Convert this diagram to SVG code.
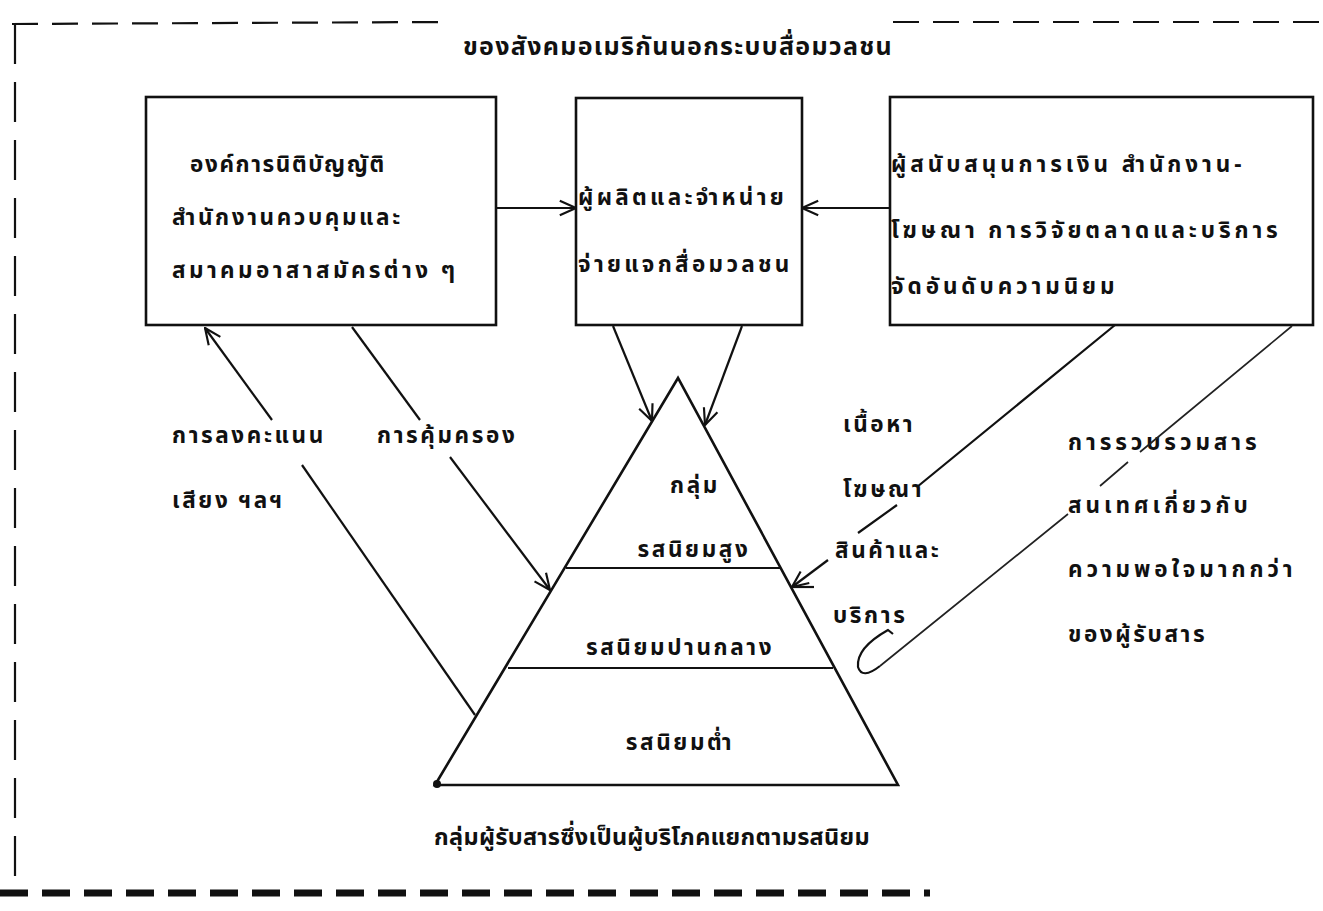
<svg xmlns="http://www.w3.org/2000/svg" width="1323" height="911" viewBox="0 0 1323 911">
<defs>
<marker id="ah" viewBox="0 0 20 20" refX="19" refY="10" markerWidth="18" markerHeight="18" markerUnits="userSpaceOnUse" orient="auto">
<path d="M1,2 L19,10 L1,18" fill="none" stroke="#111" stroke-width="2.4"/>
</marker>
<style>
.t{font-family:"Noto Sans Thai","Noto Sans","DejaVu Sans",sans-serif;font-size:22.5px;font-weight:bold;fill:#111;letter-spacing:2.6px}
.w{letter-spacing:3.9px}
.h{font-family:"Noto Sans Thai","Noto Sans","DejaVu Sans",sans-serif;font-size:25px;font-weight:bold;fill:#111;letter-spacing:1.3px}
.c{font-size:23.5px;letter-spacing:0.3px}
.box{fill:none;stroke:#111;stroke-width:2.6}
.ln{fill:none;stroke:#111;stroke-width:2.2}
.thin{fill:none;stroke:#222;stroke-width:1.7}
.dash{fill:none;stroke:#111;stroke-width:2.2;stroke-dasharray:26 14}
</style>
</defs>
<rect width="1323" height="911" fill="#fff"/>
<g id="frame">
<path class="dash" d="M12,24 L445,22"/>
<path class="dash" d="M893,22 L1323,22"/>
<path class="dash" d="M15,24 L15,882" style="stroke-dasharray:40 18"/>
<path d="M0,893 L930,893" fill="none" stroke="#111" stroke-width="7" stroke-dasharray="28 14"/>
</g>
<g id="title"><text class="h" x="678" y="55" text-anchor="middle">ของสังคมอเมริกันนอกระบบสื่อมวลชน</text></g>
<g id="box-left">
<rect class="box" x="146" y="97" width="350" height="228"/>
<text class="t" x="190" y="172" style="letter-spacing:1.6px">องค์การนิติบัญญัติ</text>
<text class="t" x="172" y="225">สำนักงานควบคุมและ</text>
<text class="t" x="172" y="278" style="letter-spacing:3.4px">สมาคมอาสาสมัครต่าง ๆ</text>
</g>
<g id="box-middle">
<rect class="box" x="576" y="98" width="226" height="227"/>
<text class="t" x="578" y="205" style="letter-spacing:3.3px">ผู้ผลิตและจำหน่าย</text>
<text class="t" x="578" y="272" style="letter-spacing:3.3px">จ่ายแจกสื่อมวลชน</text>
</g>
<g id="box-right">
<rect class="box" x="890" y="97" width="423" height="228"/>
<text class="t w" x="891" y="172">ผู้สนับสนุนการเงิน สำนักงาน-</text>
<text class="t w" x="891" y="238">โฆษณา การวิจัยตลาดและบริการ</text>
<text class="t w" x="891" y="294">จัดอันดับความนิยม</text>
</g>
<g id="pyramid">
<path class="box" d="M678,378 L435,785 L898,785 Z"/>
<path class="ln" d="M566,568 L780,568 M508,668 L833,668"/>
<circle cx="437" cy="784" r="4" fill="#111"/>
<text class="t" x="695" y="493" text-anchor="middle">กลุ่ม</text>
<text class="t" x="694" y="557" text-anchor="middle">รสนิยมสูง</text>
<text class="t" x="680" y="655" text-anchor="middle">รสนิยมปานกลาง</text>
<text class="t" x="680" y="750" text-anchor="middle">รสนิยมต่ำ</text>
</g>
<g id="labels">
<text class="t" x="172" y="443">การลงคะแนน</text>
<text class="t" x="172" y="508">เสียง ฯลฯ</text>
<text class="t" x="377" y="443">การคุ้มครอง</text>
<text class="t" x="843" y="432">เนื้อหา</text>
<text class="t" x="843" y="497">โฆษณา</text>
<text class="t" x="835" y="558">สินค้าและ</text>
<text class="t" x="833" y="623">บริการ</text>
<text class="t w" x="1068" y="450">การรวบรวมสาร</text>
<text class="t w" x="1068" y="513">สนเทศเกี่ยวกับ</text>
<text class="t w" x="1068" y="577">ความพอใจมากกว่า</text>
<text class="t" x="1068" y="642">ของผู้รับสาร</text>
<text class="h c" x="652" y="845" text-anchor="middle">กลุ่มผู้รับสารซึ่งเป็นผู้บริโภคแยกตามรสนิยม</text>
</g>
<g id="connectors">
<path class="ln" d="M496,208 L576,208" marker-end="url(#ah)"/>
<path class="ln" d="M890,208 L802,208" marker-end="url(#ah)"/>
<path class="ln" d="M613,326 L652,421" marker-end="url(#ah)"/>
<path class="ln" d="M742,326 L705,425" marker-end="url(#ah)"/>
<path class="ln" d="M272,420 L205,328" marker-end="url(#ah)"/>
<path class="ln" d="M302,465 L475,715"/>
<path class="ln" d="M352,327 L420,420"/>
<path class="ln" d="M450,457 L550,590" marker-end="url(#ah)"/>
<path class="ln" d="M1115,325 L917,487 M897,505 L858,533"/>
<path class="ln" d="M828,560 L792,587" marker-end="url(#ah)"/>
<path class="ln" d="M792,587 L814,587"/>
<path class="thin" d="M1292,326 L1140,452 M1128,462 L1100,486 M1068,514 L880,666"/>
<path class="ln" d="M880,666 Q862,680 858,667 Q856,648 888,630 L893,634"/>
</g>
</svg>
